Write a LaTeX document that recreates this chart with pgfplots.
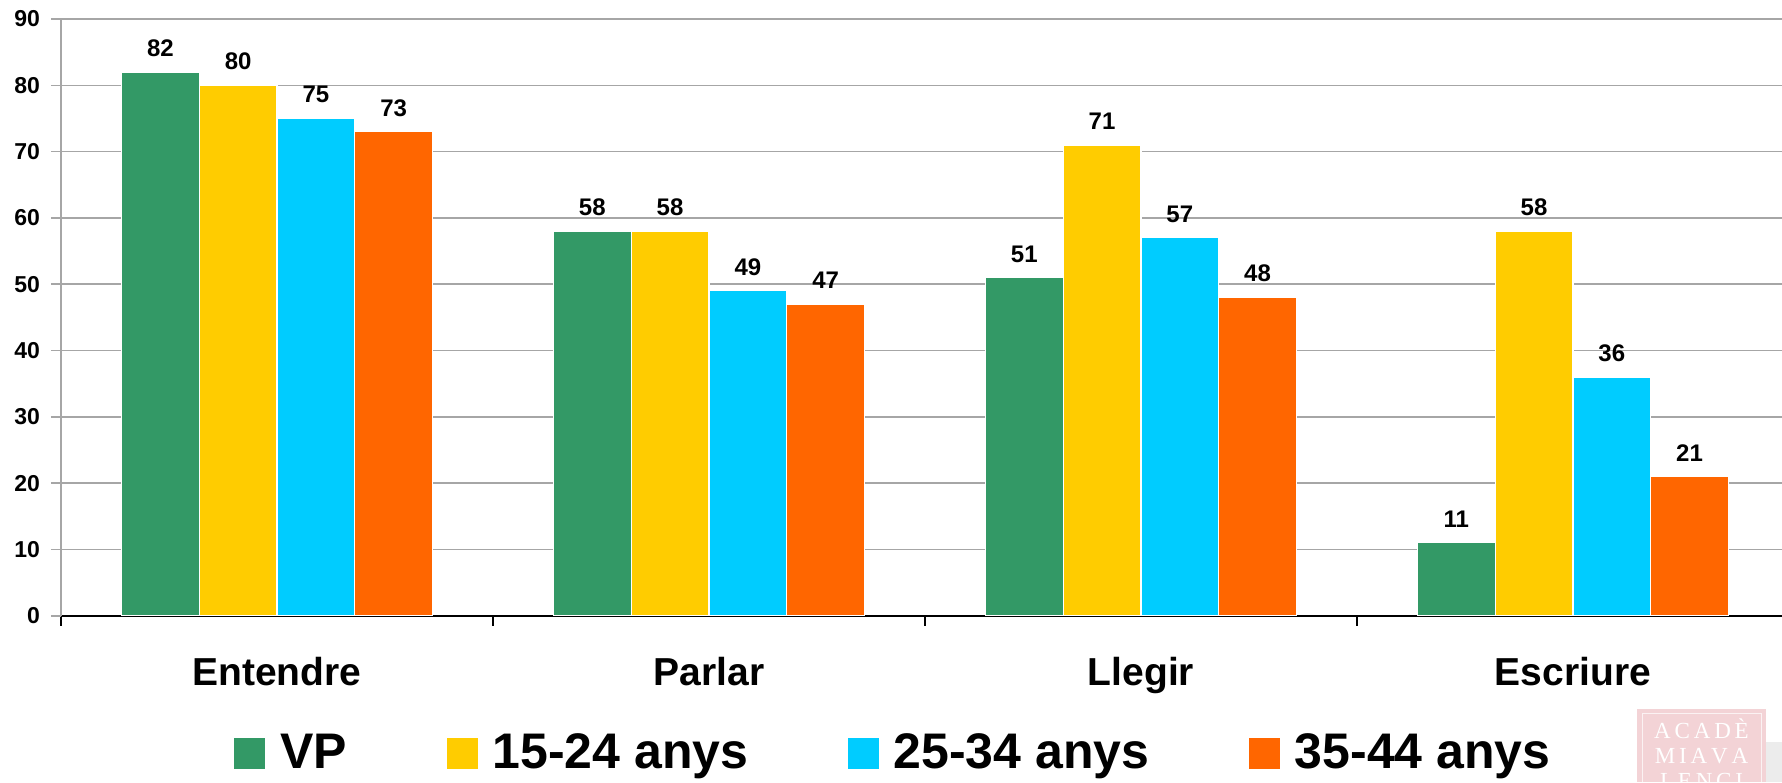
\documentclass[border=0pt]{standalone}
\usepackage{fontspec}
\setmainfont{Liberation Sans}
\newfontfamily\serifwm{Liberation Serif}
\usepackage{pgfplots}
\pgfplotsset{compat=1.18}
\definecolor{cVP}{HTML}{339966}
\definecolor{cA}{HTML}{FFCC00}
\definecolor{cB}{HTML}{00CCFF}
\definecolor{cC}{HTML}{FF6600}
\definecolor{gridgray}{HTML}{A6A6A6}
\definecolor{wmpink}{HTML}{F3D3D6}

\begin{document}
\begin{tikzpicture}
\useasboundingbox (-30.5pt,-83.15pt) rectangle (860.5pt,307.85pt);
\begin{axis}[
  at={(0pt,0pt)}, anchor=south west,
  width=860.5pt, height=298.35pt, scale only axis,
  xmin=-0.5, xmax=3.484, ymin=0, ymax=90,
  axis x line*=bottom, axis y line*=left,
  x axis line style={black, line width=1pt},
  y axis line style={gridgray, line width=1pt},
  ybar=0pt, bar width=0.18,
  xtick={-0.5,0.5,1.5,2.5}, xticklabels={},
  extra x ticks={0,1,2,3},
  extra x tick labels={Entendre,Parlar,Llegir,Escriure},
  extra x tick style={major tick length=0pt, grid=none,
    tick label style={font=\bfseries\fontsize{19.5}{20}\selectfont, yshift=-17pt}},
  ytick={0,10,...,90},
  tick align=outside, major tick length=5pt,
  x tick style={black, line width=1pt},
  y tick style={gridgray, line width=0.8pt},
  ymajorgrids, grid style={gridgray, line width=0.8pt},
  yticklabel style={font=\bfseries\fontsize{11.5}{12}\selectfont, xshift=-2pt},
  /pgf/number format/assume math mode=true,
  nodes near coords,
  every node near coord/.append style={font=\bfseries\fontsize{12}{12}\selectfont, black, yshift=4pt},
  legend columns=4,
  legend style={at={(0.4843,-0.2301)}, anchor=center, draw=none,
    font=\bfseries\fontsize{25}{26}\selectfont,
    /tikz/every odd column/.append style={column sep=5.5pt},
    /tikz/every even column/.append style={column sep=47.7pt}},
  legend image code/.code={\fill[#1, draw=none] (0pt,-7.75pt) rectangle (15.5pt,7.75pt);},
]
\addplot[fill=cVP, draw=white, line width=0.6pt] coordinates {(0,82) (1,58) (2,51) (3,11)};
\addplot[fill=cA, draw=white, line width=0.6pt] coordinates {(0,80) (1,58) (2,71) (3,58)};
\addplot[fill=cB, draw=white, line width=0.6pt] coordinates {(0,75) (1,49) (2,57) (3,36)};
\addplot[fill=cC, draw=white, line width=0.6pt] coordinates {(0,73) (1,47) (2,48) (3,21)};
\legend{VP, 15-24 anys, 25-34 anys, 35-44 anys}
\end{axis}
% watermark in the lower right corner
\fill[wmpink] (788pt,-83.15pt) rectangle (852.5pt,-46.65pt);
\draw[white!70!wmpink, line width=0.5pt] (790.5pt,-83.15pt) -- (790.5pt,-49pt) -- (850pt,-49pt) -- (850pt,-83.15pt);
\fill[gray!15] (852.5pt,-83.15pt) rectangle (860.5pt,-63pt);
\node[font=\serifwm\fontsize{11.5}{11.5}\selectfont, white, anchor=north, align=center, inner sep=0pt]
  at (820.25pt,-51.5pt) {A\,C\,A\,D\,È\\[1pt]M\,I\,A\,V\,A\\[1pt]L\,E\,N\,C\,I};
\end{tikzpicture}
\end{document}
